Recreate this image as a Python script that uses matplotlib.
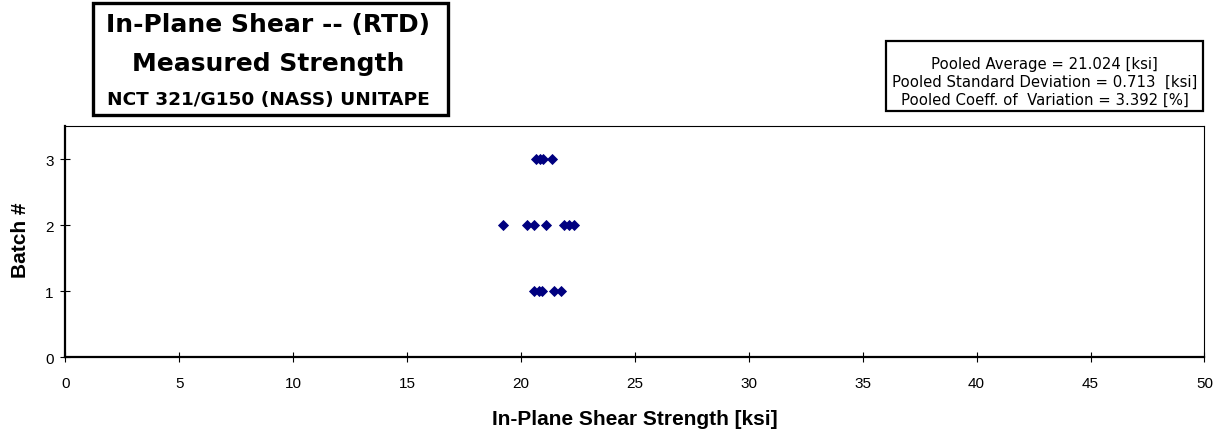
import matplotlib
matplotlib.use("Agg")
import matplotlib.pyplot as plt
from matplotlib.patches import Rectangle

plt.rcParams["font.family"] = ["Liberation Sans", "DejaVu Sans"]

# Measured in-plane shear strength per batch [ksi]
batch1_strength = [20.55, 20.80, 20.92, 21.45, 21.75]
batch2_strength = [19.22, 20.27, 20.55, 21.08, 21.88, 22.10, 22.32]
batch3_strength = [20.65, 20.85, 20.98, 21.35]
batch_ids = [1, 2, 3]

x_ticks = [0, 5, 10, 15, 20, 25, 30, 35, 40, 45, 50]
y_ticks = [0, 1, 2, 3]

title_lines = ["In-Plane Shear -- (RTD)", "Measured Strength", "NCT 321/G150 (NASS) UNITAPE"]
stats_lines = ["Pooled Average = 21.024 [ksi]",
               "Pooled Standard Deviation = 0.713  [ksi]",
               "Pooled Coeff. of  Variation = 3.392 [%]"]

W, H = 1219, 435
fig = plt.figure(figsize=(W / 100, H / 100), dpi=100)
fig.patch.set_facecolor("white")

ax = fig.add_axes([65.4 / W, 1 - 358.3 / H, (1204.4 - 65.4) / W, (358.3 - 127) / H])

for bid, vals in zip(batch_ids, [batch1_strength, batch2_strength, batch3_strength]):
    ax.plot(vals, [bid] * len(vals), linestyle="none", marker="D",
            markersize=5.3, color="#000080", markeredgewidth=0.6,
            markeredgecolor="#000080", clip_on=False)

ax.set_xlim(0, 50)
ax.set_ylim(0, 3.5)
ax.set_xticks(x_ticks)
ax.set_yticks(y_ticks)
ax.tick_params(direction="inout", length=7, width=0.8, labelsize=11,
               color="black")
ax.tick_params(axis="x", pad=10)
ax.tick_params(axis="y", pad=5)
for side in ["left", "bottom"]:
    ax.spines[side].set_linewidth(1.6)
for side in ["top", "right"]:
    ax.spines[side].set_linewidth(0.8)

ax.set_xlabel("In-Plane Shear Strength [ksi]", fontsize=15, fontweight="bold")
ax.set_ylabel("Batch #", fontsize=15, fontweight="bold")
ax.xaxis.set_label_coords((635 - 65.4) / 1139, (358.3 - 420) / 231.3)
ax.yaxis.set_label_coords((20.7 - 65.4) / 1139, (358.3 - 240) / 231.3)
ax.xaxis.label.set_va("center")
ax.yaxis.label.set_va("center")

# Title box
box_font = ["DejaVu Sans"]
fig.patches.append(Rectangle((93 / W, 1 - 115.5 / H), (447.5 - 93) / W, (115.5 - 4) / H,
                             transform=fig.transFigure, fill=False,
                             edgecolor="black", linewidth=2.4))
fig.text(268 / W, 1 - 25 / H, title_lines[0], ha="center", va="center",
         fontsize=18, fontweight="bold", family=box_font)
fig.text(268 / W, 1 - 64 / H, title_lines[1], ha="center", va="center",
         fontsize=18, fontweight="bold", family=box_font)
fig.text(268 / W, 1 - 100 / H, title_lines[2], ha="center", va="center",
         fontsize=13.3, fontweight="bold", family=box_font)

# Pooled statistics box
fig.patches.append(Rectangle((886 / W, 1 - 111.5 / H), (1203 - 886) / W, (111.5 - 42) / H,
                             transform=fig.transFigure, fill=False,
                             edgecolor="black", linewidth=1.6))
for i, line in enumerate(stats_lines):
    fig.text(1044.5 / W, 1 - (64.5 + 18 * i) / H, line, ha="center", va="center",
             fontsize=10.7, family=box_font)

fig.savefig("out.png", dpi=100)
